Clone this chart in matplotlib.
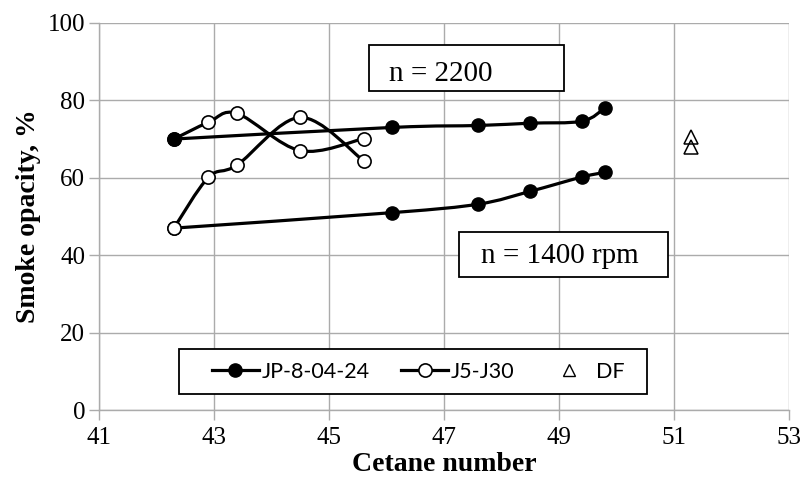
import numpy as np
import matplotlib
matplotlib.use("Agg")
import matplotlib.pyplot as plt
from matplotlib.path import Path
from matplotlib.patches import PathPatch, Rectangle
from matplotlib.lines import Line2D

# JP-8-04-24 (filled circles)
jp8_cn = [42.3, 46.1, 47.6, 48.5, 49.4, 49.8]
jp8_2200 = [70.0, 73.0, 73.5, 74.1, 74.6, 78.0]
jp8_1400 = [47.0, 51.0, 53.2, 56.5, 60.2, 61.4]

# J5-J30 (open circles)
j5_cn = [42.3, 42.9, 43.4, 44.5, 45.6]
j5_2200 = [70.0, 74.3, 76.6, 67.0, 70.1]
j5_1400 = [47.0, 60.1, 63.3, 75.6, 64.4]

# DF (open triangles)
df_cn = [51.3, 51.3]
df_val = [70.6, 68.0]

x_ticks = [41, 43, 45, 47, 49, 51, 53]
y_ticks = [0, 20, 40, 60, 80, 100]

serif = "Liberation Serif"
plt.rcParams["font.family"] = [serif, "DejaVu Serif"]


def smooth_path(x, y):
    # Excel-style smoothed line: Catmull-Rom segments as cubic Bezier
    pts = np.column_stack([x, y]).astype(float)
    n = len(pts)
    verts = [pts[0]]
    codes = [Path.MOVETO]
    for i in range(n - 1):
        p0 = pts[i - 1] if i > 0 else pts[i]
        p1 = pts[i]
        p2 = pts[i + 1]
        p3 = pts[i + 2] if i + 2 < n else pts[i + 1]
        verts += [p1 + (p2 - p0) / 6, p2 - (p3 - p1) / 6, p2]
        codes += [Path.CURVE4] * 3
    return Path(verts, codes)


fig = plt.figure(figsize=(8, 4.86), dpi=100)
ax = fig.add_axes([0.124, 0.156, 0.862, 0.797])

for yy in [j5_2200, j5_1400]:
    ax.add_patch(PathPatch(smooth_path(j5_cn, yy), fill=False, lw=2.3,
                           color="black", capstyle="round", zorder=3))
for yy in [jp8_2200, jp8_1400]:
    ax.add_patch(PathPatch(smooth_path(jp8_cn, yy), fill=False, lw=2.3,
                           color="black", capstyle="round", zorder=3))

ax.plot(j5_cn, j5_2200, "o", ms=9.5, mfc="white", mec="black", mew=1.2, zorder=4)
ax.plot(jp8_cn, jp8_2200, "o", ms=9.5, mfc="black", mec="black", zorder=5)
ax.plot(jp8_cn, jp8_1400, "o", ms=9.5, mfc="black", mec="black", zorder=5)
ax.plot(j5_cn, j5_1400, "o", ms=9.5, mfc="white", mec="black", mew=1.2, zorder=6)
ax.plot(df_cn, df_val, "^", ms=10, mfc="none", mec="black", mew=1.1, zorder=6)

ax.set_xlim(41, 53)
ax.set_ylim(0, 100)
ax.set_xticks(x_ticks)
ax.set_xticklabels([str(v) for v in x_ticks], fontfamily=serif, fontsize=18)
ax.set_yticks(y_ticks)
ax.set_yticklabels([str(v) for v in y_ticks], fontfamily=serif, fontsize=18)
ax.grid(True, color="#ababab", lw=1.0)
ax.set_axisbelow(True)
for s in ["top", "right"]:
    ax.spines[s].set_visible(False)
for s in ["left", "bottom"]:
    ax.spines[s].set_color("#ababab")
    ax.spines[s].set_linewidth(1.0)
ax.tick_params(colors="#ababab", length=7, width=1.0, labelcolor="black")
ax.tick_params(axis="x", pad=5)
ax.tick_params(axis="y", pad=3)

ax.set_xlabel("Cetane number", fontfamily=serif, fontweight="bold",
              fontsize=20, labelpad=2)
ax.set_ylabel("Smoke opacity, %", fontfamily=serif, fontweight="bold",
              fontsize=20, labelpad=5)

# annotation boxes
ax.add_patch(Rectangle((0.391, 0.824), 0.283, 0.119, transform=ax.transAxes,
                       fill=True, fc="white", ec="black", lw=1.3, zorder=7))
ax.text(0.42, 0.868, "n = 2200", transform=ax.transAxes, fontfamily=serif,
        fontsize=21, va="center", ha="left", zorder=8)
ax.add_patch(Rectangle((0.522, 0.344), 0.303, 0.116, transform=ax.transAxes,
                       fill=True, fc="white", ec="black", lw=1.3, zorder=7))
ax.text(0.554, 0.398, "n = 1400 rpm", transform=ax.transAxes, fontfamily=serif,
        fontsize=21, va="center", ha="left", zorder=8)

# legend frame drawn separately, entries placed inside it
ax.add_patch(Rectangle((0.116, 0.041), 0.678, 0.117, transform=ax.transAxes,
                       fill=True, fc="white", ec="black", lw=1.3, zorder=8))
handles = [
    Line2D([], [], color="black", lw=2.3, marker="o", ms=9.5, mfc="black"),
    Line2D([], [], color="black", lw=2.3, marker="o", ms=9.5, mfc="white",
           mec="black", mew=1.2),
    Line2D([], [], ls="none", marker="^", ms=9, mfc="white", mec="black"),
]
leg = ax.legend(handles, ["JP-8-04-24", "J5-J30", "DF"], ncol=3,
                loc="center left", bbox_to_anchor=(0.163, 0.0995),
                frameon=False, prop={"family": "Lato", "size": 15.5},
                handlelength=2.2, handletextpad=0.12, columnspacing=1.45,
                borderaxespad=0, borderpad=0)
leg.set_zorder(9)

fig.savefig("out.png", dpi=100)
